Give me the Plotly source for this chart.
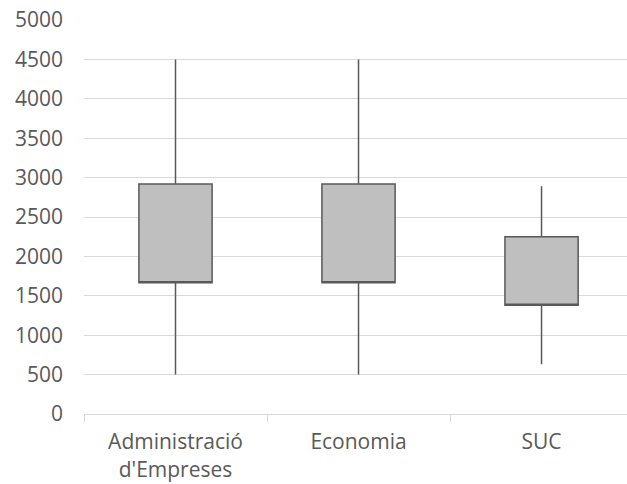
import plotly.graph_objects as go

categories = ["Administració<br>d'Empreses", "Economia", "SUC"]
minimum = [500, 500, 630]
q1 = [1665, 1665, 1380]
q3 = [2920, 2920, 2250]
maximum = [4500, 4500, 2890]

fig = go.Figure()
fig.add_trace(go.Box(
    x=categories,
    q1=q1,
    median=q1,
    q3=q3,
    lowerfence=minimum,
    upperfence=maximum,
    width=0.4,
    whiskerwidth=0,
    fillcolor="#bfbfbf",
    line=dict(color="#595959", width=1.5),
    boxpoints=False,
    hoverinfo="skip",
    showlegend=False,
))

fig.update_layout(
    width=627, height=484,
    margin=dict(l=84, r=0, t=20, b=70, autoexpand=False),
    paper_bgcolor="white", plot_bgcolor="white",
    font=dict(family="Open Sans", size=21, color="#595959"),
)
fig.update_yaxes(
    range=[0, 5000], dtick=500, tick0=0,
    showgrid=True, gridcolor="#d9d9d9", gridwidth=1,
    zeroline=False, showline=False, automargin=False,
    ticks="", ticklabelstandoff=20,
)
fig.update_xaxes(
    type="category",
    range=[-0.5, 2.467],
    showline=True, linecolor="#d9d9d9", linewidth=1,
    ticks="outside", tickson="boundaries", ticklen=7, tickcolor="#d9d9d9",
    ticklabelstandoff=9, automargin=False,
    showgrid=False,
)

fig.write_html(
    "out.html",
    config={"displayModeBar": False},
    post_script="document.body.style.margin='0';",
)
